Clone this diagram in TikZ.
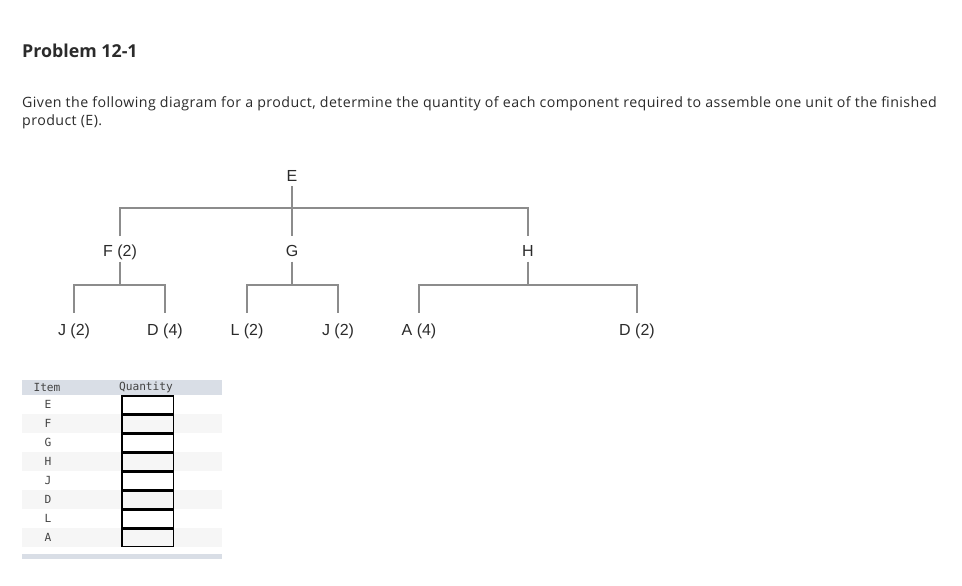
\documentclass[tikz,border=0pt]{standalone}
\usepackage{fontspec}
\setmainfont{Open Sans}
\newfontfamily\bodyfont[LetterSpace=3.0]{Open Sans}
\newfontfamily\treefont{Liberation Sans}
\newfontfamily\monofont{DejaVu Sans Mono}
\definecolor{txt}{HTML}{2B2B2B}
\definecolor{treeline}{HTML}{8C8C8C}
\definecolor{hdrband}{HTML}{D9DEE6}
\definecolor{altrow}{HTML}{F6F6F6}
\definecolor{monotxt}{HTML}{444444}
\begin{document}
\begin{tikzpicture}[x=1pt,y=-1pt,
  lbl/.style={font=\treefont\fontsize{16}{17}\selectfont, text=txt, inner sep=0pt, text height=11pt, text depth=0pt, outer sep=5pt},
  tree/.style={draw=treeline, line width=1.4pt},
  up1/.style={shorten >=4.5pt},
  body/.style={anchor=base west, inner sep=0pt, text=txt, font=\bodyfont\fontsize{14.2}{16}\selectfont},
  mono/.style={font=\monofont\fontsize{11.2}{12}\selectfont, text=monotxt, inner sep=0pt},
  qbox/.style={draw=black, line width=1.4pt}]
\useasboundingbox (0,0) rectangle (962,586);
\fill[white] (0,0) rectangle (962,586);
% heading and text
\node[anchor=base west, inner sep=0pt, text=txt, font=\bfseries\fontsize{17.8}{20}\selectfont] (title) at (22,58) {Problem 12-1};
\node[body] (line1) at (22,107) {Given the following diagram for a product, determine the quantity of each component required to assemble one unit of the finished};
\node[body] (line2) at (22,125) {product (E).};
% tree nodes
\node[lbl] (E) at (292,175.5) {E};
\node[lbl] (F) at (120,251) {F (2)};
\node[lbl] (G) at (292,251) {G};
\node[lbl] (H) at (528,251) {H};
\node[lbl] (J1) at (74,330) {J (2)};
\node[lbl] (D4) at (165,330) {D (4)};
\node[lbl] (L2) at (247,330) {L (2)};
\node[lbl] (J2) at (338,330) {J (2)};
\node[lbl] (A4) at (419,330) {A (4)};
\node[lbl] (D2) at (637,330) {D (2)};
\coordinate (b0) at (292,208);
\coordinate (bF) at (120,285);
\coordinate (bG) at (292,285);
\coordinate (bH) at (528,285);
% connectors
\draw[tree,up1] (E.south) -- (G.north);
\draw[tree,shorten <=4.5pt,shorten >=4.5pt] (F.north) |- (b0) -| (H.north);
\draw[tree] (F.south) -- (bF);
\draw[tree,shorten <=7pt,shorten >=7pt] (J1.north) |- (bF) -| (D4.north);
\draw[tree] (G.south) -- (bG);
\draw[tree,shorten <=7pt,shorten >=7pt] (L2.north) |- (bG) -| (J2.north);
\draw[tree] (H.south) -- (bH);
\draw[tree,shorten <=7pt,shorten >=7pt] (A4.north) |- (bH) -| (D2.north);
% table
\fill[hdrband] (22,380) rectangle (222,395);
\foreach \i in {1,3,5,7} {
  \fill[altrow] (22,{395+19*\i}) rectangle (222,{414+19*\i});
}
\fill[hdrband] (22,554) rectangle (222,559);
\node[mono] (hItem) at (47,387) {Item};
\node[mono] (hQty) at (146,387) {Quantity};
\foreach \t [count=\i from 0] in {E,F,G,H,J,D,L,A} {
  \node[mono] (it\i) at (48,{404.5+19*\i}) {\t};
  \draw[qbox] (122,{395.8+19*\i}) rectangle (173.5,{413.2+19*\i});
}
\end{tikzpicture}
\end{document}
